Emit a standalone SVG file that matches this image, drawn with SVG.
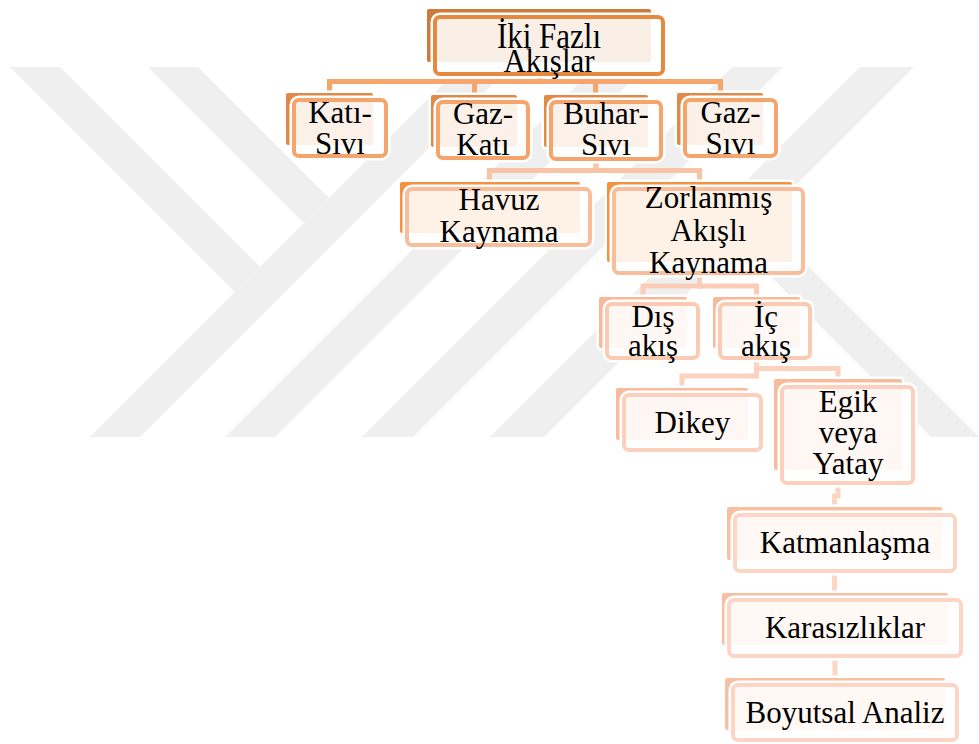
<svg xmlns="http://www.w3.org/2000/svg" width="979" height="744" viewBox="0 0 979 744" font-family="Liberation Serif, Times New Roman, serif">
<style>
.wm{fill:#efefef}
.t{font-family:'Liberation Serif','Times New Roman',serif;font-size:31px;fill:#000;text-anchor:middle}
.back{stroke:#fff;stroke-width:5;paint-order:stroke}
.halo{fill:none;stroke:#fff;stroke-width:3}
.front{fill:#fff;fill-opacity:0.88;stroke-width:4}
.conn{fill:none;stroke-width:5}
.l1b{fill:#cd7a3a}.l1f{stroke:#e5893f}
.l2b{fill:#df8a48}.l2f{stroke:#f5a56b}
.l3b{fill:#f4923f}.l3f{stroke:#f8bd9d}
.l4b{fill:#f8b89a}.l4f{stroke:#fbcab3}
.l5b{fill:#f9bb9d}.l5f{stroke:#fbd0bc}
.l6b{fill:#f8c0a3}.l6f{stroke:#fcd5c4}
</style>
<rect width="979" height="744" fill="#fff"/>
<g id="watermark">
<polygon class="wm" points="90,437 140,437 510,67 460,67"/>
<polygon class="wm" points="10,67 60,67 260,267 235,292"/>
<polygon class="wm" points="148,67 198,67 329,198 304,223"/>
<polygon class="wm" points="225,437 275,437 645,67 595,67"/>
<polygon class="wm" points="362,437 413,437 783,67 732,67"/>
<polygon class="wm" points="490,437 544,437 914,67 860,67"/>
<polygon class="wm" points="737.5,243.5 761.5,219.5 979,437 931,437"/>
</g>
<g id="connectors">
<path class="conn" stroke="#f6a56d" d="M539.5,70 V81.5 H329.5 V96"/>
<path class="conn" stroke="#f6a56d" d="M539.5,70 V81.5 H474.5 V98"/>
<path class="conn" stroke="#f6a56d" d="M539.5,70 V81.5 H595.5 V98"/>
<path class="conn" stroke="#f6a56d" d="M539.5,70 V81.5 H720.5 V96"/>
<path class="conn" stroke="#f9c3a6" d="M596,150 V170.5 H489.5 V185"/>
<path class="conn" stroke="#f9c3a6" d="M596,150 V170.5 H699.5 V185"/>
<path class="conn" stroke="#fbcdb8" d="M699.5,270 V286 H643 V300"/>
<path class="conn" stroke="#fbcdb8" d="M699.5,270 V286 H756.5 V300"/>
<path class="conn" stroke="#fcd2bf" d="M756.5,355 V376 H682 V391"/>
<path class="conn" stroke="#fcd2bf" d="M756.5,355 V368.5 H838 V382"/>
<path class="conn" stroke="#fcd6c5" d="M838,480 V496 H834.5 V510"/>
<path class="conn" stroke="#fcd6c5" d="M834.5,570 V596"/>
<path class="conn" stroke="#fcd6c5" d="M835,655 V681"/>
</g>
<g id="n-root">
<rect class="back l1b" x="427" y="9" width="224" height="53" rx="2"/>
<rect class="halo" x="432" y="14" width="234" height="63" rx="8"/>
<rect class="front l1f" x="435" y="17" width="228" height="57" rx="5"/>
<text class="t" transform="translate(549,48) scale(1,1.15)" x="0" y="0">İki Fazlı</text>
<text class="t" transform="translate(549,71.5) scale(1,1.08)" x="0" y="0">Akışlar</text>
</g>
<g id="n-kati-sivi">
<rect class="back l2b" x="286" y="93" width="87" height="52" rx="2"/>
<rect class="halo" x="291" y="97" width="98" height="62" rx="8"/>
<rect class="front l2f" x="294" y="100" width="92" height="56" rx="5"/>
<text class="t" x="340" y="123">Katı-</text>
<text class="t" x="340" y="154">Sıvı</text>
</g>
<g id="n-gaz-kati">
<rect class="back l2b" x="431" y="95" width="86" height="52" rx="2"/>
<rect class="halo" x="435" y="99" width="96" height="62" rx="8"/>
<rect class="front l2f" x="438" y="102" width="90" height="56" rx="5"/>
<text class="t" x="483" y="124">Gaz-</text>
<text class="t" x="483" y="155">Katı</text>
</g>
<g id="n-buhar-sivi">
<rect class="back l2b" x="544" y="95" width="104" height="52" rx="2"/>
<rect class="halo" x="548" y="99" width="116" height="63" rx="8"/>
<rect class="front l2f" x="551" y="102" width="110" height="57" rx="5"/>
<text class="t" x="606" y="124">Buhar-</text>
<text class="t" x="606" y="155">Sıvı</text>
</g>
<g id="n-gaz-sivi">
<rect class="back l2b" x="677" y="93" width="86" height="52" rx="2"/>
<rect class="halo" x="682" y="97" width="97" height="62" rx="8"/>
<rect class="front l2f" x="685" y="100" width="91" height="56" rx="5"/>
<text class="t" x="730.5" y="123">Gaz-</text>
<text class="t" x="730.5" y="154">Sıvı</text>
</g>
<g id="n-havuz">
<rect class="back l3b" x="400" y="182" width="180" height="51" rx="2"/>
<rect class="halo" x="404" y="186" width="189" height="62" rx="8"/>
<rect class="front l3f" x="407" y="189" width="183" height="56" rx="5"/>
<text class="t" x="499" y="210">Havuz</text>
<text class="t" x="499" y="242">Kaynama</text>
</g>
<g id="n-zorlanmis">
<rect class="back l3b" x="607" y="182" width="185" height="80" rx="2"/>
<rect class="halo" x="611" y="186" width="195" height="90" rx="8"/>
<rect class="front l3f" x="614" y="189" width="189" height="84" rx="5"/>
<text class="t" x="708.5" y="208">Zorlanmış</text>
<text class="t" x="708.5" y="241">Akışlı</text>
<text class="t" x="708.5" y="273">Kaynama</text>
</g>
<g id="n-dis">
<rect class="back l4b" x="599" y="297" width="88" height="51" rx="2"/>
<rect class="halo" x="604" y="301" width="97" height="60" rx="8"/>
<rect class="front l4f" x="607" y="304" width="91" height="54" rx="5"/>
<text class="t" x="653" y="327">Dış</text>
<text class="t" x="653" y="356">akış</text>
</g>
<g id="n-ic">
<rect class="back l4b" x="713" y="297" width="87" height="51" rx="2"/>
<rect class="halo" x="717" y="301" width="96" height="60" rx="8"/>
<rect class="front l4f" x="720" y="304" width="90" height="54" rx="5"/>
<text class="t" x="766" y="327">İç</text>
<text class="t" x="766" y="356">akış</text>
</g>
<g id="n-dikey">
<rect class="back l5b" x="616" y="388" width="132" height="52" rx="2"/>
<rect class="halo" x="621" y="392" width="143" height="61" rx="8"/>
<rect class="front l5f" x="624" y="395" width="137" height="55" rx="5"/>
<text class="t" x="692.5" y="433">Dikey</text>
</g>
<g id="n-egik">
<rect class="back l5b" x="774" y="379" width="128" height="91" rx="2"/>
<rect class="halo" x="779" y="384" width="137" height="102" rx="8"/>
<rect class="front l5f" x="782" y="387" width="131" height="96" rx="5"/>
<text class="t" x="848" y="412">Egik</text>
<text class="t" x="848" y="443">veya</text>
<text class="t" x="848" y="474">Yatay</text>
</g>
<g id="n-katman">
<rect class="back l6b" x="727" y="507" width="215" height="53" rx="2"/>
<rect class="halo" x="732" y="512" width="226" height="62" rx="8"/>
<rect class="front l6f" x="735" y="515" width="220" height="56" rx="5"/>
<text class="t" x="845" y="553">Katmanlaşma</text>
</g>
<g id="n-karas">
<rect class="back l6b" x="722" y="593" width="226" height="52" rx="2"/>
<rect class="halo" x="726" y="597" width="238" height="62" rx="8"/>
<rect class="front l6f" x="729" y="600" width="232" height="56" rx="5"/>
<text class="t" x="845" y="638">Karasızlıklar</text>
</g>
<g id="n-boyut">
<rect class="back l6b" x="725" y="678" width="220" height="52" rx="2"/>
<rect class="halo" x="730" y="682" width="230" height="61" rx="8"/>
<rect class="front l6f" x="733" y="685" width="224" height="55" rx="5"/>
<text class="t" x="845" y="723">Boyutsal Analiz</text>
</g>
</svg>
